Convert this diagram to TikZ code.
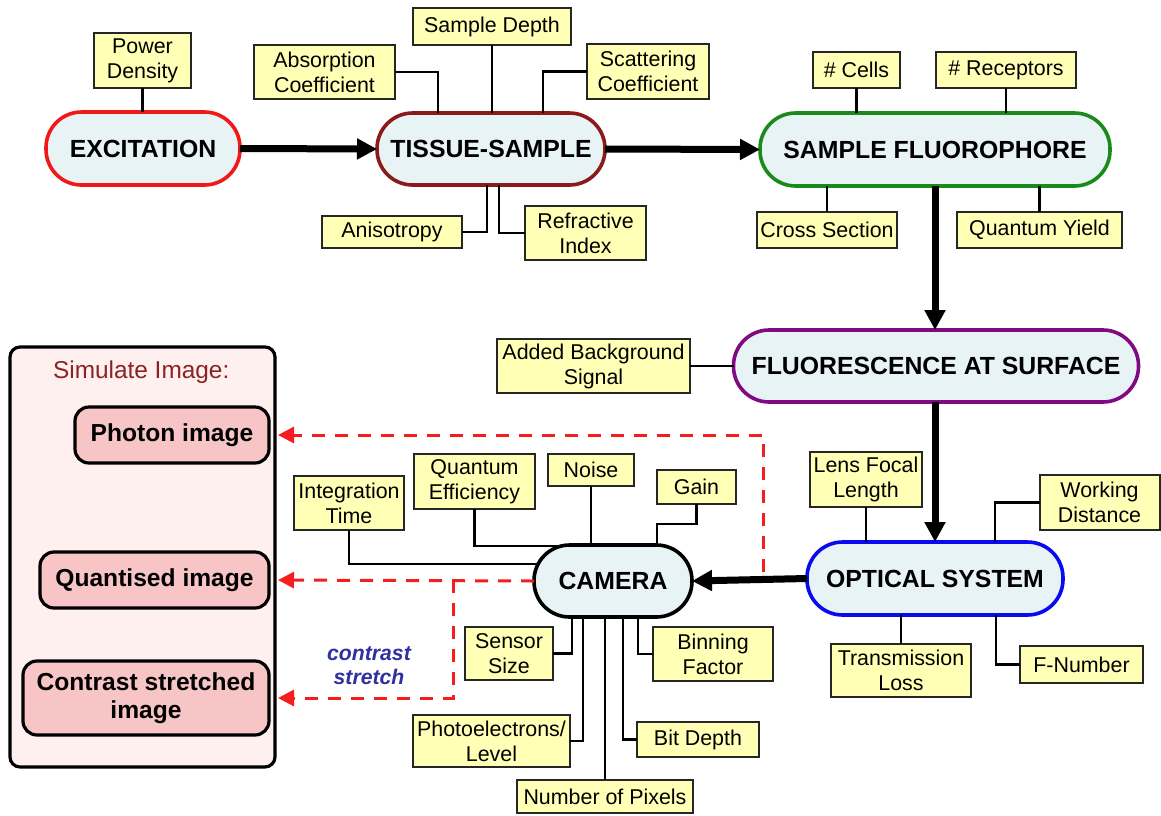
\documentclass[tikz,border=0pt]{standalone}
\usepackage{fontspec}
\setmainfont{Liberation Sans}
\usetikzlibrary{arrows.meta,calc}
\definecolor{propfill}{HTML}{FFFFB5}
\definecolor{pillfill}{HTML}{E8F3F6}
\definecolor{exred}{HTML}{F01818}
\definecolor{tsred}{HTML}{8B1A1A}
\definecolor{sfgreen}{HTML}{1A8A1A}
\definecolor{flpurple}{HTML}{800A80}
\definecolor{osblue}{HTML}{0A0AF0}
\definecolor{panelfill}{HTML}{FFF0F0}
\definecolor{imgfill}{HTML}{F7C5C5}
\definecolor{simred}{HTML}{8B2323}
\definecolor{dashred}{HTML}{F51E1E}
\definecolor{stretchblue}{HTML}{3030A0}
\begin{document}
\begin{tikzpicture}[x=0.5pt,y=-0.5pt,
  sz/.style 2 args={minimum width=0.5pt*#1, minimum height=0.5pt*#2},
  prop/.style={draw=black!85, line width=1pt, fill=propfill, inner sep=0pt, outer sep=0pt,
    align=center, font=\fontsize{10.7}{12.5}\selectfont},
  pill/.style={draw=#1, line width=1.8pt, fill=pillfill, rounded corners=17.8pt, inner sep=0pt,
    outer sep=0pt, align=center, font=\fontsize{12.4}{14}\selectfont\bfseries},
  panel/.style={draw=black, line width=1.6pt, fill=panelfill, rounded corners=5pt, inner sep=0pt},
  imgbox/.style={draw=black, line width=1.6pt, fill=imgfill, rounded corners=7pt, inner sep=0pt,
    outer sep=0pt, align=center, font=\fontsize{12.3}{14}\selectfont\bfseries},
  conn/.style={draw=black, line width=1.1pt},
  bigarrow/.style={draw=black, line width=3.5pt, -{Triangle[length=10pt,width=10pt]}},
  redarrow/.style={draw=dashred, line width=1.5pt, dash pattern=on 6.5pt off 5pt,
    -{Triangle[length=8pt,width=8pt]}, shorten >=4.5pt},
]
\useasboundingbox (0,0) rectangle (1161,815);

% left panel
\node[panel, sz={265}{420}] (sim) at (142.5,557) {};
\node[anchor=west, text=simred, font=\fontsize{12.2}{14}\selectfont] (st) at (46,372) {Simulate Image:};
\node[imgbox, sz={194}{56}] (ph) at (172,435) {Photon image};
\node[imgbox, sz={229}{56}] (qu) at (154.5,580) {Quantised image};
\node[imgbox, sz={246}{74}] (cst) at (146,698) {Contrast stretched\\image};

% main pills
\node[pill=exred, sz={194}{73}] (ex) at (143,148.5) {EXCITATION};
\node[pill=tsred, sz={228}{72}] (ts) at (491,149) {TISSUE-SAMPLE};
\node[pill=sfgreen, sz={350}{73}] (sf) at (935,149.5) {SAMPLE FLUOROPHORE};
\node[pill=flpurple, sz={405}{72}] (fl) at (936,366) {FLUORESCENCE AT SURFACE};
\node[pill=osblue, sz={256}{73}] (os) at (935,578.5) {OPTICAL SYSTEM};
\node[pill=black, sz={158}{72}] (ca) at (613,581) {CAMERA};

% property boxes
\node[prop,sz={97}{55}] (pd) at (142.5,60.5) {Power\\Density};
\node[prop,sz={141}{54}] (ac) at (324.5,72) {Absorption\\Coefficient};
\node[prop,sz={158}{37}] (sd) at (492,26.5) {Sample Depth};
\node[prop,sz={122}{55}] (sc) at (648,71.5) {Scattering\\Coefficient};
\node[prop,sz={140}{32}] (an) at (392,232) {Anisotropy};
\node[prop,sz={121}{54}] (ri) at (585.5,233) {Refractive\\Index};
\node[prop,sz={87}{36}] (ce) at (856.5,70) {\# Cells};
\node[prop,sz={140}{36}] (re) at (1006,70) {\# Receptors};
\node[prop,sz={140}{36}] (cs) at (827,230) {Cross Section};
\node[prop,sz={165}{36}] (qy) at (1039.5,230) {Quantum Yield};
\node[prop,sz={193}{54}] (ab) at (593.5,366) {Added Background\\Signal};
\node[prop,sz={112}{55}] (lf) at (866,479.5) {Lens Focal\\Length};
\node[prop,sz={120}{55}] (wd) at (1099.5,502.5) {Working\\Distance};
\node[prop,sz={140}{53}] (tl) at (901,670.5) {Transmission\\Loss};
\node[prop,sz={123}{37}] (fn) at (1081.5,664.5) {F-Number};
\node[prop,sz={110}{54}] (it) at (349,503) {Integration\\Time};
\node[prop,sz={121}{55}] (qe) at (474.5,481.5) {Quantum\\Efficiency};
\node[prop,sz={86}{32}] (no) at (591,470) {Noise};
\node[prop,sz={79}{34}] (ga) at (696.5,487) {Gain};
\node[prop,sz={88}{53}] (ss) at (509,653.5) {Sensor\\Size};
\node[prop,sz={157}{52}] (pl) at (491.5,741) {Photoelectrons/\\Level};
\node[prop,sz={176}{33}] (np) at (605,796.5) {Number of Pixels};
\node[prop,sz={122}{35}] (bd) at (698,739.5) {Bit Depth};
\node[prop,sz={120}{54}] (bf) at (713,654) {Binning\\Factor};

% connectors
\draw[conn] (pd.south) -- (pd.south |- ex.north);
\draw[conn] (ac.east) -| ($(ts.north)+(-53,0)$);
\draw[conn] (sd.south) -- (sd.south |- ts.north);
\draw[conn] (sc.west) -| ($(ts.north)+(52,0)$);
\draw[conn] (an.east) -| ($(ts.south)+(-4,0)$);
\draw[conn] (ri.west) -| ($(ts.south)+(8,0)$);
\draw[conn] (ce.south) -- (ce.south |- sf.north);
\draw[conn] (re.south) -- (re.south |- sf.north);
\draw[conn] (cs.north) -- (cs.north |- sf.south);
\draw[conn] (qy.north) -- (qy.north |- sf.south);
\draw[conn] (ab.east) -- (fl.west);
\draw[conn] (lf.south) -- (lf.south |- os.north);
\draw[conn] (wd.west) -| ($(os.north)+(60,0)$);
\draw[conn] (tl.north) -- (tl.north |- os.south);
\draw[conn] (fn.west) -| ($(os.south)+(61,0)$);
\draw[conn] (it.south) |- ($(ca.west)+(4,-17)$);
\draw[conn] (qe.south) |- ($(ca.north)+(-52,1)$);
\draw[conn] (no.south) -- (no.south |- ca.north);
\draw[conn] (ga.south) -- ++(0,20) -| ($(ca.north)+(44,0)$);
\draw[conn] (ss.east) -| ($(ca.south)+(-41,0)$);
\draw[conn] (pl.east) -| ($(ca.south)+(-30,0)$);
\draw[conn] (np.north) -- (np.north |- ca.south);
\draw[conn] (bd.west) -| ($(ca.south)+(10,0)$);
\draw[conn] (bf.west) -| ($(ca.south)+(25,0)$);

% main arrows
\draw[bigarrow] (ex.east) -- (ts.west);
\draw[bigarrow] (ts.east) -- (sf.west);
\draw[bigarrow] (sf.south) -- (sf.south |- fl.north);
\draw[bigarrow] (os.north |- fl.south) -- (os.north);
\draw[bigarrow] (os.west) -- (ca.east);

% red dashed outputs
\coordinate (pstart) at (763,572);
\coordinate (cbend) at (453,580);
\draw[redarrow] (pstart) |- (ph.east);
\draw[redarrow] (ca.west) -- (qu.east);
\draw[redarrow] (cbend) |- (cst.east);
\node[align=center, text=stretchblue, font=\fontsize{10.6}{12}\selectfont\bfseries\itshape] (cstxt) at (369,666) {contrast\\stretch};
\end{tikzpicture}
\end{document}
